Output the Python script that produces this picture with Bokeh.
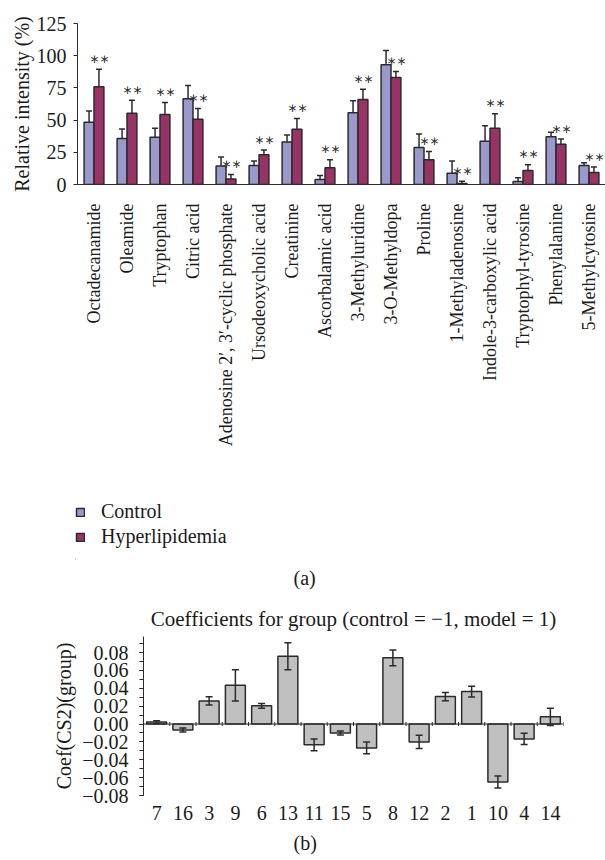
import math

from bokeh.core.properties import value
from bokeh.embed import file_html
from bokeh.layouts import column
from bokeh.models import (ColumnDataSource, CustomJSTickFormatter, FactorRange,
                          FixedTicker, Legend, LegendItem, Range1d, Span, Title)
from bokeh.plotting import figure
from bokeh.resources import INLINE
from bokeh.transform import dodge

SERIF = "Liberation Serif"
INK = "#2b2b2b"

# ---- panel (a): relative intensity of the 16 metabolites ----
metabolites = [
    "Octadecanamide", "Oleamide", "Tryptophan", "Citric acid",
    "Adenosine 2\u2032, 3\u2032-cyclic phosphate", "Ursodeoxycholic acid",
    "Creatinine", "Ascorbalamic acid", "3-Methyluridine", "3-O-Methyldopa",
    "Proline", "1-Methyladenosine", "Indole-3-carboxylic acid",
    "Tryptophyl-tyrosine", "Phenylalanine", "5-Methylcytosine",
]
control = [48.3, 35.8, 36.6, 66.5, 14.3, 14.8, 33.0, 3.9,
           55.8, 93.0, 28.8, 8.8, 33.5, 2.3, 37.1, 14.8]
control_err = [8.7, 7.2, 7.0, 10.4, 7.0, 3.4, 5.4, 3.1,
               9.2, 11.0, 10.4, 9.4, 12.2, 2.9, 3.4, 2.1]
hyperlipidemia = [75.8, 55.3, 54.3, 50.6, 4.2, 23.1, 42.9, 13.0,
                  66.0, 83.1, 19.2, 0.8, 43.6, 10.9, 31.2, 9.4]
hyperlipidemia_err = [13.6, 10.2, 9.3, 8.4, 3.6, 3.7, 8.3, 6.2,
                      8.0, 4.7, 6.5, 1.8, 11.4, 4.4, 4.1, 4.1]
intensity_ticks = [0, 25, 50, 75, 100, 125]
groups = ["Control", "Hyperlipidemia"]
significance = "\u2217\u2217"

# ---- panel (b): PLS-DA coefficients for the group variable ----
variable_ids = ["7", "16", "3", "9", "6", "13", "11", "15",
                "5", "8", "12", "2", "1", "10", "4", "14"]
coefficients = [0.0022, -0.0067, 0.0259, 0.0433, 0.0204, 0.0759, -0.0233, -0.0100,
                -0.0267, 0.0741, -0.0200, 0.0307, 0.0363, -0.0648, -0.0167, 0.0081]
coefficient_ci = [0.0015, 0.0022, 0.0046, 0.0176, 0.0026, 0.0150, 0.0065, 0.0022,
                  0.0067, 0.0089, 0.0074, 0.0046, 0.0061, 0.0067, 0.0063, 0.0096]
coef_ticks = [-0.08, -0.06, -0.04, -0.02, 0.0, 0.02, 0.04, 0.06, 0.08]
coef_minor_ticks = [-0.08, -0.07, -0.06, -0.05, -0.04, -0.03, -0.02, -0.01, 0.0,
                    0.01, 0.02, 0.03, 0.04, 0.05, 0.06, 0.07, 0.08, 0.09]

BAR_STYLE = {
    "Control": dict(fill_color="#9999CC", line_color=INK, line_width=1.5),
    "Hyperlipidemia": dict(fill_color="#993366", line_color=INK, line_width=1.5),
}
TEXT_STYLE = dict(text_font=SERIF, text_font_style="normal", text_color="#1a1a1a")


def style_axis(axis, size):
    axis.major_label_text_font = SERIF
    axis.major_label_text_font_size = size
    axis.major_label_text_color = "#1a1a1a"
    axis.axis_label_text_font = SERIF
    axis.axis_label_text_font_style = "normal"
    axis.axis_label_text_color = "#1a1a1a"
    axis.axis_line_color = INK
    axis.major_tick_line_color = INK
    axis.minor_tick_line_color = None


def bare(fig):
    fig.xgrid.grid_line_color = None
    fig.ygrid.grid_line_color = None
    fig.outline_line_color = None
    fig.frame_align = False


# ---------------- top chart ----------------
src_a = ColumnDataSource(dict(
    cat=metabolites,
    ctrl=control,
    ctrl_hi=[v + e for v, e in zip(control, control_err)],
    hyp=hyperlipidemia,
    hyp_hi=[v + e for v, e in zip(hyperlipidemia, hyperlipidemia_err)],
    star_y=[v + e + 8 for v, e in zip(hyperlipidemia, hyperlipidemia_err)],
))

p1 = figure(
    x_range=FactorRange(*metabolites), y_range=Range1d(0, 125),
    width=605, height=490, output_backend="svg", toolbar_location=None,
    min_border_left=77, min_border_right=0, min_border_top=23, min_border_bottom=306,
)
bare(p1)

x_ctrl = dodge("cat", -0.15, range=p1.x_range)
x_hyp = dodge("cat", 0.15, range=p1.x_range)
x_star = dodge("cat", 0.16, range=p1.x_range)

p1.vbar(x=x_ctrl, top="ctrl", width=0.3, source=src_a, **BAR_STYLE["Control"])
p1.vbar(x=x_hyp, top="hyp", width=0.3, source=src_a, **BAR_STYLE["Hyperlipidemia"])

for xs, lo, hi in ((x_ctrl, "ctrl", "ctrl_hi"), (x_hyp, "hyp", "hyp_hi")):
    p1.segment(x0=xs, y0=lo, x1=xs, y1=hi, source=src_a, line_color=INK, line_width=1.5)
    p1.scatter(x=xs, y=hi, source=src_a, marker="dash", size=6,
               line_color=INK, line_width=1.5)

p1.text(x=x_star, y="star_y", text=value(significance), source=src_a,
        text_font=value("DejaVu Sans"), text_font_size="12px", text_color="#333333",
        text_align="center", text_baseline="middle")

style_axis(p1.xaxis[0], "18px")
p1.xaxis.major_label_orientation = math.pi / 2
p1.xaxis.major_tick_line_color = None
p1.xaxis.major_label_standoff = 13

style_axis(p1.yaxis[0], "20px")
p1.yaxis.ticker = FixedTicker(ticks=intensity_ticks)
p1.yaxis.major_tick_out = 4
p1.yaxis.major_tick_in = 0
p1.yaxis.major_label_standoff = 7
p1.yaxis.axis_label = "Relative intensity (%)"
p1.yaxis.axis_label_text_font_size = "20px"
p1.yaxis.axis_label_standoff = 1

# ---------------- legend strip and "(a)" caption ----------------
p_leg = figure(
    x_range=Range1d(0, 1), y_range=Range1d(0, 1), width=605, height=103,
    output_backend="svg", toolbar_location=None,
    x_axis_location=None, y_axis_location=None,
    min_border_left=75, min_border_right=0, min_border_top=10, min_border_bottom=33,
)
bare(p_leg)
# one swatch row per group, parked left of the visible range; only its legend entry shows
swatch_src = ColumnDataSource(dict(x=[-1.0], top=[0.0]))
legend_items = [
    LegendItem(label=g, renderers=[p_leg.vbar(x="x", top="top", width=0.1,
                                              source=swatch_src, **BAR_STYLE[g])])
    for g in groups
]
p_leg.add_layout(Legend(
    items=legend_items, location="top_left", orientation="vertical",
    glyph_width=10, glyph_height=10, label_standoff=16,
    padding=0, margin=0, spacing=2, label_height=23,
    label_text_font=SERIF, label_text_font_size="20px", label_text_color="#1a1a1a",
    border_line_color=None, background_fill_alpha=0,
))
p_leg.add_layout(Title(text="(a)", align="left", offset=218, standoff=10,
                       text_font_size="20px", **TEXT_STYLE), "below")

# ---------------- bottom chart ----------------
src_b = ColumnDataSource(dict(
    id=variable_ids,
    coef=coefficients,
    lo=[c - e for c, e in zip(coefficients, coefficient_ci)],
    hi=[c + e for c, e in zip(coefficients, coefficient_ci)],
))

p2 = figure(
    x_range=FactorRange(*variable_ids), y_range=Range1d(-0.08, 0.098),
    width=605, height=267, output_backend="svg", toolbar_location=None,
    min_border_left=143, min_border_right=42, min_border_top=43, min_border_bottom=64,
)
bare(p2)
p2.add_layout(Title(text="Coefficients for group (control = \u22121, model = 1)",
                    align="center", standoff=12, text_font_size="21px", **TEXT_STYLE),
              "above")
p2.add_layout(Title(text="(b)", align="left", offset=150, standoff=14,
                    text_font_size="20px", **TEXT_STYLE), "below")

p2.add_layout(Span(location=0, dimension="width", line_color=INK, line_width=1))
p2.scatter(x=dodge("id", 0.5, range=p2.x_range), y=0, source=src_b, marker="dash",
           angle=math.pi / 2, size=4, line_color=INK, line_width=1)

p2.vbar(x="id", top="coef", bottom=0, width=0.76, source=src_b,
        fill_color="#C0C0C0", line_color=INK, line_width=1.5)
p2.segment(x0="id", y0="lo", x1="id", y1="hi", source=src_b, line_color=INK, line_width=1.5)
p2.scatter(x="id", y="lo", source=src_b, marker="dash", size=7, line_color=INK, line_width=1.5)
p2.scatter(x="id", y="hi", source=src_b, marker="dash", size=7, line_color=INK, line_width=1.5)

style_axis(p2.xaxis[0], "20px")
p2.xaxis.axis_line_color = None
p2.xaxis.major_tick_line_color = None
p2.xaxis.major_label_standoff = 4

style_axis(p2.yaxis[0], "20px")
p2.yaxis.ticker = FixedTicker(ticks=coef_ticks, minor_ticks=coef_minor_ticks)
p2.yaxis.formatter = CustomJSTickFormatter(
    code="return tick.toFixed(2).replace('-', '\\u2212')")
p2.yaxis.minor_tick_line_color = INK
p2.yaxis.major_tick_out = 4
p2.yaxis.major_tick_in = 0
p2.yaxis.minor_tick_out = 4
p2.yaxis.minor_tick_in = 0
p2.yaxis.major_label_standoff = 11
p2.yaxis.axis_label = "Coef(CS2)(group)"
p2.yaxis.axis_label_text_font_size = "20px"
p2.yaxis.axis_label_standoff = 4

layout = column(p1, p_leg, p2)
open("out.html", "w").write(file_html(layout, INLINE))
